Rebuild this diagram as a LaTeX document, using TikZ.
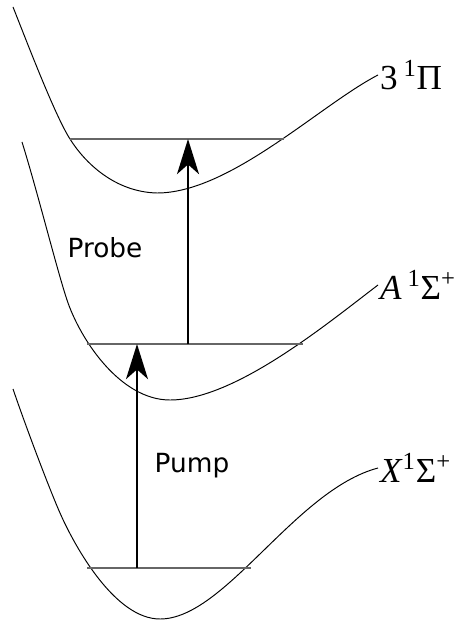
\documentclass[tikz,border=0pt]{standalone}
\usepackage{fontspec}
\setmainfont{Liberation Serif}
\setsansfont{DejaVu Sans}
\usetikzlibrary{arrows.meta}
\tikzset{pes/.style={x=0.02cm,y=-0.02cm},
  curve/.style={line width=0.55pt},
  level/.style={black!60,line width=0.8pt},
  trans/.style={line width=1.2pt,-{Stealth[length=20pt,width=12.5pt,inset=5.5pt]}},
  state/.style={anchor=west,inner sep=1pt,font=\rmfamily\fontsize{20}{20}\selectfont},
  beam/.style={font=\sffamily\fontsize{15}{15}\selectfont}}

\begin{document}
\begin{tikzpicture}[pes]
    \useasboundingbox (0,0) rectangle (456,621);
    % potential curves
    \draw[curve] (13,7) .. controls (25,37) and (55,116) .. (70,139)
        .. controls (85,163) and (115,192) .. (157,193)
        .. controls (230,193) and (320,105) .. (378,75);
    \draw[curve] (22,142) .. controls (37,190) and (57,270) .. (67,300)
        .. controls (80,339) and (120,400) .. (170,400)
        .. controls (235,400) and (328,323) .. (378,285);
    \draw[curve] (13,389) .. controls (26,427) and (49,488) .. (60,513)
        .. controls (75,547) and (115,619) .. (160,619)
        .. controls (225,619) and (295,490) .. (378,468);
    \node[state] (pi) at (378,75) {3\,\textsuperscript{1}Π};
    \node[state] (asig) at (378,285) {\textit{A}\,\textsuperscript{1}Σ\textsuperscript{+}};
    \node[state] (xsig) at (378,468) {\textit{X}\textsuperscript{1}Σ\textsuperscript{+}};
    % vibrational levels
    \coordinate (pl) at (70,139);  \coordinate (pr) at (284,139);
    \coordinate (al) at (87,344);  \coordinate (ar) at (303,344);
    \coordinate (xl) at (87,568);  \coordinate (xr) at (251,568);
    \foreach \a/\b in {pl/pr,al/ar,xl/xr} \draw[level] (\a) -- (\b);
    % transitions
    \coordinate (pump0) at (137,568);  \coordinate (pump1) at (137,344);
    \coordinate (probe0) at (188,344); \coordinate (probe1) at (188,139);
    \draw[trans] (pump0) -- (pump1);
    \draw[trans] (probe0) -- (probe1);
    \node[beam] (probe) at (105,248) {Probe};
    \node[beam] (pump) at (192,466) {Pump};
\end{tikzpicture}
\end{document}
